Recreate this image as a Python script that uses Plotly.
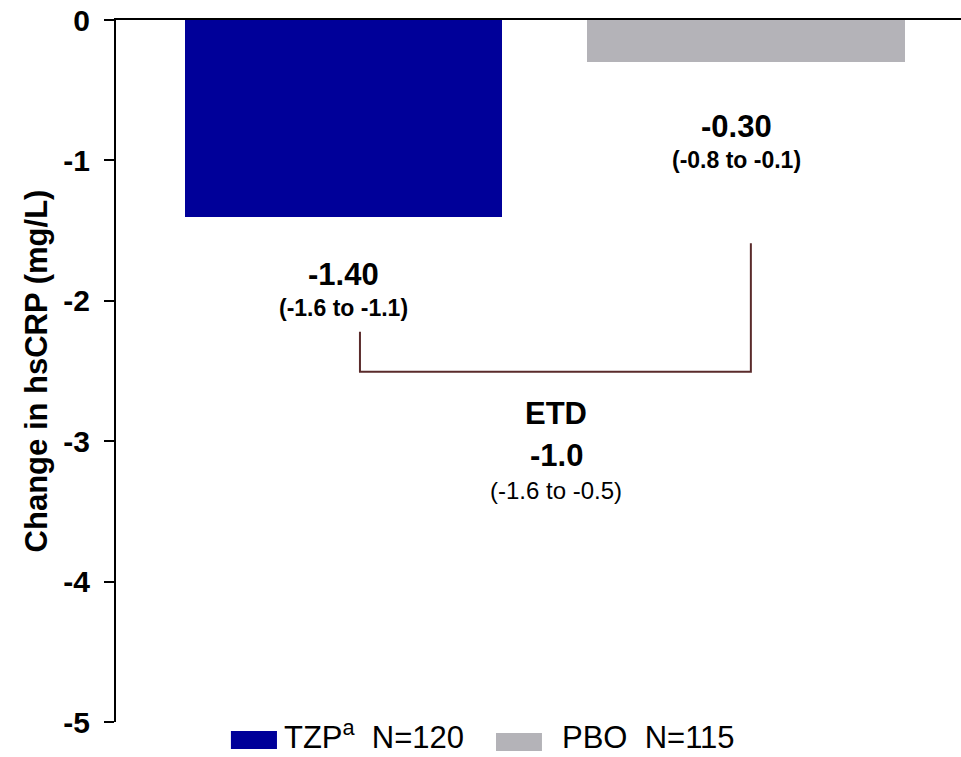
import plotly.graph_objects as go

# Change from baseline in hsCRP (mg/L), least-squares means with 95% CI
groups = ["TZP", "PBO"]
legend_names = ["TZP<sup>a</sup>", "PBO"]
n_patients = [120, 115]
change = [-1.40, -0.30]
ci_text = ["(-1.6 to -1.1)", "(-0.8 to -0.1)"]
colors = ["#000099", "#B4B3B8"]

etd_value = -1.0
etd_ci = "(-1.6 to -0.5)"

y_ticks = [0, -1, -2, -3, -4, -5]

FONT = "Liberation Sans, Arial, sans-serif"
x_pos = [0, 1]

fig = go.Figure()
fig.add_trace(go.Bar(
    x=x_pos, y=change, width=0.788,
    marker=dict(color=colors, line=dict(width=0)),
    showlegend=False, hoverinfo="skip",
))

# value + CI labels under each bar
value_anchor = [(0.0, -1.81, -2.05), (0.977, -0.76, -1.00)]
for i, (xa, yv, yc) in enumerate(value_anchor):
    fig.add_annotation(x=xa, y=yv, xref="x", yref="y", text=f"<b>{change[i]:.2f}</b>",
                       showarrow=False, font=dict(family=FONT, size=31, color="black"))
    fig.add_annotation(x=xa, y=yc, xref="x", yref="y", text=f"<b>{ci_text[i]}</b>",
                       showarrow=False, font=dict(family=FONT, size=23, color="black"))

# treatment difference bracket
br_col = "#5A2B2B"
fig.add_shape(type="path", xref="x", yref="y",
              path="M 0.041,-2.22 L 0.041,-2.505 L 1.012,-2.505 L 1.012,-1.59",
              line=dict(color=br_col, width=2))
etd_x = 0.528
fig.add_annotation(x=etd_x, y=-2.80, text="<b>ETD</b>", showarrow=False,
                   font=dict(family=FONT, size=31, color="black"))
fig.add_annotation(x=etd_x, y=-3.10, text=f"<b>{etd_value:.1f}</b>", showarrow=False,
                   font=dict(family=FONT, size=31, color="black"))
fig.add_annotation(x=etd_x, y=-3.35, text=etd_ci, showarrow=False,
                   font=dict(family=FONT, size=24, color="black"))

# custom legend below the plot
legend_items = [(0.136, 0.1905, 0.1964, -0.0128, -0.0385),
                (0.4497, 0.5041, 0.5254, -0.0157, -0.0413)]
gaps = ["\u00a0\u00a0", "\u00a0\u00a0"]
for i, (x0, x1, xt, y0, y1) in enumerate(legend_items):
    fig.add_shape(type="rect", xref="paper", yref="paper", x0=x0, x1=x1, y0=y0, y1=y1,
                  fillcolor=colors[i], line=dict(width=0))
    fig.add_annotation(x=xt, y=-0.0495, xref="paper", yref="paper",
                       xanchor="left", yanchor="bottom",
                       text=f"{legend_names[i]}{gaps[i]}N={n_patients[i]}", showarrow=False,
                       font=dict(family=FONT, size=31, color="black"))

fig.update_layout(
    width=961, height=757,
    margin=dict(l=116, r=0, t=20, b=35),
    plot_bgcolor="white", paper_bgcolor="white",
    bargap=0,
    xaxis=dict(range=[-0.565, 1.534], side="top", showline=True, linecolor="black",
               linewidth=2, showticklabels=False, ticks="", showgrid=False, zeroline=False),
    yaxis=dict(range=[-5, 0], tickvals=y_ticks, ticktext=[str(v) for v in y_ticks],
               showline=True, linecolor="black", linewidth=2, ticks="outside", ticklen=10,
               tickwidth=2, tickcolor="black", showgrid=False, zeroline=False,
               ticklabelstandoff=8,
               tickfont=dict(family=FONT, size=30, color="black", weight="bold"),
               title=dict(text="<b>Change in hsCRP (mg/L)</b>", standoff=6,
                          font=dict(family=FONT, size=31, color="black"))),
)

fig.write_html("out.html")
